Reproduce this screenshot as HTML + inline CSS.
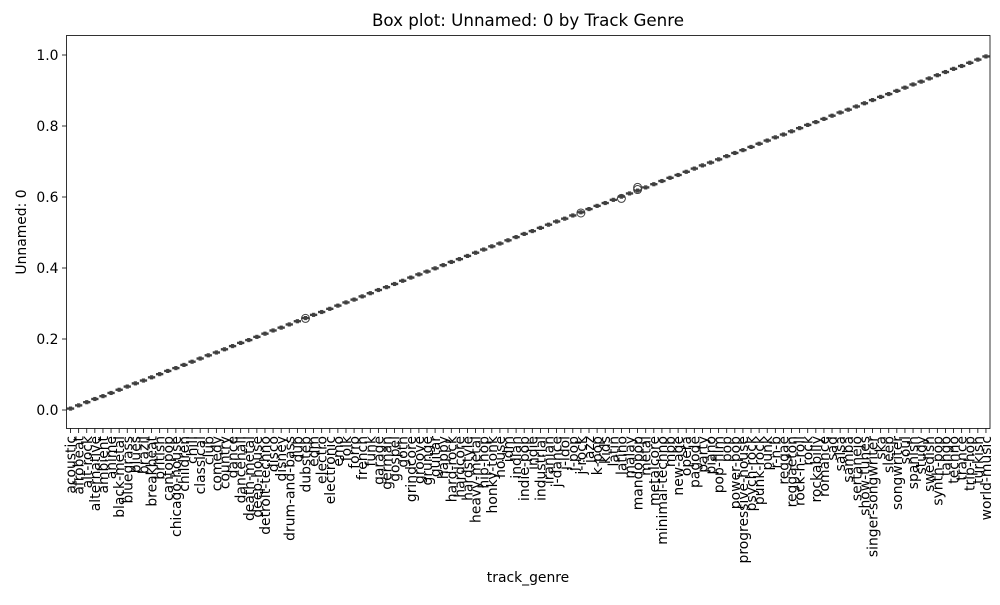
<!DOCTYPE html>
<html><head><meta charset="utf-8"><style>
body{margin:0;background:#fff;}
svg text{font-family:"DejaVu Sans","Liberation Sans",sans-serif;fill:#000;}
</style></head><body>
<svg id="chart" width="1000" height="600">
<text x="528" y="26" font-size="16.7" text-anchor="middle">Box plot: Unnamed: 0 by Track Genre</text>
<text x="528" y="582" font-size="13.9" text-anchor="middle">track_genre</text>
<text transform="translate(26,232) rotate(-90)" font-size="13.9" text-anchor="middle">Unnamed: 0</text>
<g id="plot"></g>
<rect x="66.5" y="35.5" width="923.5" height="393" fill="none" stroke="#000" stroke-width="0.8"/>
</svg>
<script>
const genres=["acoustic","afrobeat","alt-rock","alternative","ambient","anime","black-metal","bluegrass","blues","brazil","breakbeat","british","cantopop","chicago-house","children","chill","classical","club","comedy","country","dance","dancehall","death-metal","deep-house","detroit-techno","disco","disney","drum-and-bass","dub","dubstep","edm","electro","electronic","emo","folk","forro","french","funk","garage","german","gospel","goth","grindcore","groove","grunge","guitar","happy","hard-rock","hardcore","hardstyle","heavy-metal","hip-hop","honky-tonk","house","idm","indian","indie-pop","indie","industrial","iranian","j-dance","j-idol","j-pop","j-rock","jazz","k-pop","kids","latin","latino","malay","mandopop","metal","metalcore","minimal-techno","mpb","new-age","opera","pagode","party","piano","pop-film","pop","power-pop","progressive-house","psych-rock","punk-rock","punk","r-n-b","reggae","reggaeton","rock-n-roll","rock","rockabilly","romance","sad","salsa","samba","sertanejo","show-tunes","singer-songwriter","ska","sleep","songwriter","soul","spanish","study","swedish","synth-pop","tango","techno","trance","trip-hop","turkish","world-music"];
const medians=[0.004,0.013,0.022,0.031,0.039,0.048,0.057,0.066,0.075,0.083,0.092,0.101,0.110,0.118,0.127,0.136,0.145,0.154,0.162,0.171,0.180,0.189,0.197,0.206,0.215,0.224,0.232,0.241,0.250,0.259,0.268,0.276,0.285,0.294,0.303,0.311,0.320,0.329,0.338,0.346,0.355,0.364,0.373,0.382,0.390,0.399,0.408,0.417,0.425,0.434,0.443,0.452,0.461,0.469,0.478,0.487,0.496,0.504,0.513,0.522,0.531,0.539,0.548,0.557,0.566,0.575,0.583,0.592,0.601,0.610,0.618,0.627,0.636,0.645,0.654,0.662,0.671,0.680,0.689,0.697,0.706,0.715,0.724,0.732,0.741,0.750,0.759,0.768,0.776,0.785,0.794,0.803,0.811,0.820,0.829,0.838,0.846,0.855,0.864,0.873,0.882,0.890,0.899,0.908,0.917,0.925,0.934,0.943,0.952,0.961,0.969,0.978,0.987,0.996];
const outlierGenres=["dubstep","j-rock","latino","mandopop","mandopop"];
const outlierValues=[0.258,0.555,0.596,0.621,0.627];
const yTicks=[0,0.2,0.4,0.6,0.8,1.0];
const yTickLabels=["0.0","0.2","0.4","0.6","0.8","1.0"];

const NS="http://www.w3.org/2000/svg";
const plot=document.getElementById('plot');
const X0=66.5,W=923.5,Y0=410,YS=355;
const band=W/genres.length;
function xc(i){return X0+band*(i+0.5);}
function y(v){return Y0-YS*v;}
function mk(tag,attrs,parent){const e=document.createElementNS(NS,tag);for(const k in attrs)e.setAttribute(k,attrs[k]);(parent||plot).appendChild(e);return e;}

yTicks.forEach((t,i)=>{
  const l=mk('line',{x1:X0-4.5,x2:X0,y1:y(t),y2:y(t),stroke:'#000','stroke-width':0.8});
  
  
  const tx=mk('text',{x:X0-8,y:y(t)+5,'font-size':13.9,'text-anchor':'end'});
  tx.textContent=yTickLabels[i];
  
  
});

genres.forEach((g,i)=>{
  const cx=xc(i),m=medians[i];
  const gg=mk('g',{});
  
  
  const hw=band*0.4;
  mk('line',{x1:cx,x2:cx,y1:y(m-0.0044),y2:y(m+0.0044),stroke:'#3f3f3f','stroke-width':1},gg);
  mk('rect',{x:cx-hw,y:y(m+0.0022),width:hw*2,height:Math.max(1,y(m-0.0022)-y(m+0.0022)),fill:'#3f3f3f',stroke:'#3f3f3f','stroke-width':0.8},gg);
  mk('line',{x1:cx-hw/2,x2:cx+hw/2,y1:y(m-0.0044),y2:y(m-0.0044),stroke:'#3f3f3f','stroke-width':1},gg);
  mk('line',{x1:cx-hw/2,x2:cx+hw/2,y1:y(m+0.0044),y2:y(m+0.0044),stroke:'#3f3f3f','stroke-width':1},gg);
  const tk=mk('line',{x1:cx,x2:cx,y1:428.5,y2:433,stroke:'#000','stroke-width':0.8});
  
  
  const tx=mk('text',{transform:`translate(${cx+5},436) rotate(-90)`,'font-size':13.9,'text-anchor':'end'});
  tx.textContent=g;
  
  
});

outlierGenres.forEach((g,k)=>{
  const i=genres.indexOf(g);
  const c=mk('circle',{cx:xc(i),cy:y(outlierValues[k]),r:4,fill:'none',stroke:'#3f3f3f','stroke-width':1});
  
  
});
</script>
</body></html>
